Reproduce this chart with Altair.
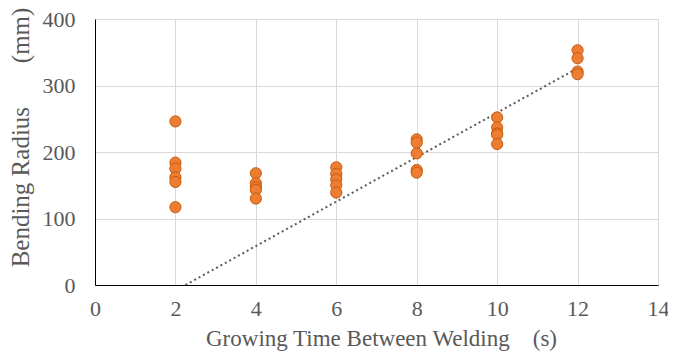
import altair as alt
import pandas as pd

# Scatter data: growing time (s) and bending radius (mm)
x_vals = [2, 2, 2, 2, 2, 2,
          4, 4, 4, 4, 4,
          6, 6, 6, 6, 6,
          8, 8, 8, 8, 8,
          10, 10, 10, 10, 10,
          12, 12, 12, 12]
y_vals = [246, 184, 175, 162, 155, 117,
          168, 153, 147, 143, 130,
          177, 167, 159, 150, 139,
          219, 214, 198, 173, 169,
          252, 237, 228, 226, 212,
          353, 341, 321, 317]

# Dotted trend line series
trend_x = [2.25, 12]
trend_y = [0, 326]

x_ticks = [0, 2, 4, 6, 8, 10, 12, 14]
y_ticks = [0, 100, 200, 300, 400]

pts = pd.DataFrame({"x": x_vals, "y": y_vals})
trend = pd.DataFrame({"x": trend_x, "y": trend_y})

FONT = "Liberation Serif"
TXT = "#595959"
NB = "\u00a0"

W, H = 563, 266

xscale = alt.Scale(domain=[0, 14], nice=False)
yscale = alt.Scale(domain=[0, 400], nice=False)

xaxis = alt.Axis(values=x_ticks, title="Growing Time Between Welding" + NB * 4 + "(s)",
                 grid=True, gridColor="#D9D9D9", ticks=False, labelPadding=13,
                 labelFont=FONT, labelFontSize=22, labelColor=TXT,
                 titleFont=FONT, titleFontSize=23, titleColor=TXT, titleFontWeight="normal",
                 titlePadding=8, titleX=286, domainColor="#000000", labelFlush=False)
yaxis = alt.Axis(values=y_ticks, title="Bending Radius" + NB * 7 + "(mm)",
                 grid=True, gridColor="#D9D9D9", ticks=False, labelPadding=20,
                 labelFont=FONT, labelFontSize=22, labelColor=TXT,
                 titleFont=FONT, titleFontSize=25, titleColor=TXT, titleFontWeight="normal",
                 titlePadding=9, titleY=118, domainColor="#000000")

line = alt.Chart(trend).mark_line(color="#595959", strokeDash=[2, 3], strokeWidth=2, clip=True).encode(
    x=alt.X("x:Q", scale=xscale, axis=xaxis),
    y=alt.Y("y:Q", scale=yscale, axis=yaxis),
)

points = alt.Chart(pts).mark_point(filled=True, shape="circle", size=125, fill="#ED7D31",
                                   stroke="#C55A11", strokeWidth=1, opacity=1).encode(
    x=alt.X("x:Q", scale=xscale),
    y=alt.Y("y:Q", scale=yscale),
)

chart = alt.layer(line, points).properties(
    width=W, height=H,
    autosize=alt.AutoSizeParams(type="none"),
    padding={"left": 87, "top": 11, "right": 660 - 87 - W, "bottom": 346 - 11 - H},
).configure_view(stroke=None).configure(background="white")

chart.save("out.html", embed_options={"renderer": "svg", "actions": False})
